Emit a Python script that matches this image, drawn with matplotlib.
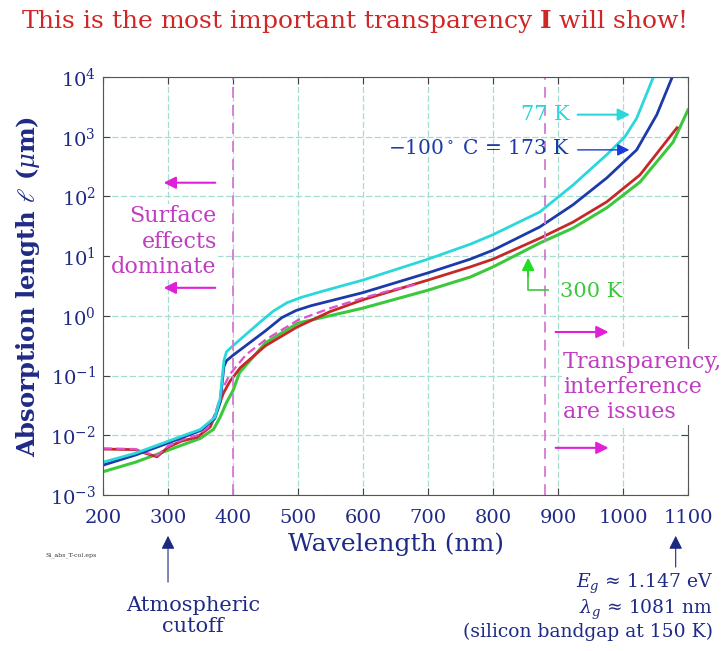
import numpy as np
import matplotlib
matplotlib.use('Agg')
import matplotlib.pyplot as plt

plt.rcParams['font.family'] = 'DejaVu Serif'
plt.rcParams['mathtext.fontset'] = 'dejavuserif'

# absorption length data, wavelength in nm and log10(length in um)
lam_77 = [200, 250, 300, 350, 372, 380, 386, 390, 400, 440, 462, 483, 505, 540, 600, 700,
          765, 800, 872, 923, 975, 1003, 1021, 1046]
log_77 = [-2.45, -2.30, -2.10, -1.90, -1.70, -1.40, -0.75, -0.60, -0.50, -0.12, 0.08, 0.22,
          0.31, 0.42, 0.60, 0.95, 1.20, 1.36, 1.74, 2.19, 2.70, 3.00, 3.31, 3.98]

lam_173 = [200, 250, 300, 350, 372, 380, 386, 390, 400, 450, 475, 497, 520, 600, 700, 765,
           800, 872, 923, 975, 1021, 1052, 1075]
log_173 = [-2.50, -2.33, -2.13, -1.92, -1.72, -1.45, -0.85, -0.75, -0.66, -0.25, -0.03, 0.09,
           0.17, 0.39, 0.72, 0.95, 1.10, 1.49, 1.86, 2.31, 2.78, 3.37, 3.98]

lam_red = [200, 250, 265, 283, 300, 320, 345, 365, 375, 385, 395, 411, 450, 498, 549, 600,
           700, 765, 800, 872, 923, 975, 1026, 1083]
log_red = [-2.23, -2.24, -2.30, -2.36, -2.20, -2.10, -2.03, -1.86, -1.60, -1.30, -1.10, -0.87,
           -0.50, -0.19, 0.07, 0.27, 0.60, 0.82, 0.95, 1.30, 1.57, 1.91, 2.36, 3.15]

lam_300 = [200, 250, 300, 350, 370, 380, 390, 400, 410, 450, 500, 600, 700, 765, 800, 872,
           923, 975, 1026, 1077, 1100]
log_300 = [-2.61, -2.45, -2.25, -2.05, -1.90, -1.70, -1.45, -1.25, -0.95, -0.45, -0.12, 0.13,
           0.43, 0.65, 0.82, 1.22, 1.47, 1.81, 2.24, 2.91, 3.45]

lam_mag = [200, 250, 265, 283, 300, 320, 345, 365, 375, 385, 395, 420, 450, 500, 550, 600,
           650, 680]
log_mag = [-2.22, -2.23, -2.29, -2.34, -2.18, -2.08, -2.00, -1.84, -1.55, -1.20, -0.98, -0.65,
           -0.40, -0.07, 0.13, 0.30, 0.45, 0.52]

xticks = [200, 300, 400, 500, 600, 700, 800, 900, 1000, 1100]
yticks = [1e-3, 1e-2, 1e-1, 1e0, 1e1, 1e2, 1e3, 1e4]
ytick_labels = ['$10^{%d}$' % k for k in range(-3, 5)]

navy = '#1f2a85'
cyan = '#2ad8dc'
blue = '#1c3aa8'
red = '#c62828'
green = '#3cc83c'
magenta = '#e020d8'
mag_text = '#c03cc0'

fig = plt.figure(figsize=(7.28, 6.51), dpi=100)
ax = fig.add_axes([0.1415, 0.2396, 0.8036, 0.6421])

ax.semilogy(lam_300, 10**np.array(log_300), color=green, lw=2.2)
ax.semilogy(lam_red, 10**np.array(log_red), color=red, lw=2.0)
ax.semilogy(lam_mag, 10**np.array(log_mag), color='#e050d0', lw=1.6, ls=(0, (4, 2)))
ax.semilogy(lam_173, 10**np.array(log_173), color=blue, lw=2.0)
ax.semilogy(lam_77, 10**np.array(log_77), color=cyan, lw=2.0)

ax.set_xlim(200, 1100)
ax.set_ylim(1e-3, 1e4)
ax.set_xticks(xticks)
ax.set_xticklabels([str(t) for t in xticks])
ax.set_yticks(yticks)
ax.set_yticklabels(ytick_labels)
ax.yaxis.set_minor_locator(matplotlib.ticker.NullLocator())
ax.tick_params(direction='in', top=True, right=True, length=5, width=0.8,
               labelsize=14, labelcolor=navy, color='#444444')
ax.tick_params(axis='x', pad=10)
ax.tick_params(axis='y', pad=5)
ax.grid(True, color='#a6ddd2', lw=0.9, ls=(0, (5, 2)))
for s in ax.spines.values():
    s.set_color('#555555')
    s.set_linewidth(0.8)

ax.axvline(400, color='#d47ad4', lw=1.3, ls=(0, (6, 4)))
ax.axvline(880, color='#d47ad4', lw=1.3, ls=(0, (6, 4)))

ax.set_xlabel('Wavelength (nm)', fontsize=18, color=navy, labelpad=4)
ax.set_ylabel(r'Absorption length $\ell$ ($\mu$m)', fontsize=17.5, color=navy,
              fontweight='bold', labelpad=6)

fig.text(0.486, 0.967, r'This is the most important transparency $\mathbf{I}$ will show!',
         ha='center', va='center', fontsize=18, color='#d02626')

# temperature labels
ax.text(918, 10**3.37, '77 K', ha='right', va='center', fontsize=15, color=cyan)
ax.annotate('', xy=(1015, 10**3.37), xytext=(926, 10**3.37),
            arrowprops=dict(arrowstyle='-|>', color=cyan, lw=1.5, mutation_scale=18))
ax.text(918, 10**2.80, r'$-$100$^\circ$ C = 173 K', ha='right', va='center',
        fontsize=14.5, color=blue)
ax.annotate('', xy=(1014, 10**2.78), xytext=(926, 10**2.78),
            arrowprops=dict(arrowstyle='-|>', color='#1a3ad8', lw=1.0, mutation_scale=18))
ax.plot([854, 854, 885], [10**0.90, 10**0.43, 10**0.43], color=green, lw=1.2)
ax.annotate('', xy=(854, 10**1.02), xytext=(854, 10**0.62),
            arrowprops=dict(arrowstyle='-|>', color='#22dd22', lw=1.5, mutation_scale=18))
ax.text(903, 10**0.40, '300 K', ha='left', va='center', fontsize=15, color=green)

# region notes
box = dict(facecolor='white', edgecolor='none', pad=1)
ax.text(375, 10**1.24, 'Surface\neffects\ndominate', ha='right', va='center',
        fontsize=16, color=mag_text, linespacing=1.2, bbox=box)
for ly in [2.23, 0.47]:
    ax.annotate('', xy=(289, 10**ly), xytext=(377, 10**ly),
                arrowprops=dict(arrowstyle='-|>', color=magenta, lw=1.5, mutation_scale=18))
ax.text(908, 10**-1.19, 'Transparency,\ninterference\nare issues', ha='left', va='center',
        fontsize=16, color=mag_text, linespacing=1.2, bbox=box)
for ly in [-0.27, -2.21]:
    ax.annotate('', xy=(982, 10**ly), xytext=(892, 10**ly),
                arrowprops=dict(arrowstyle='-|>', color=magenta, lw=1.5, mutation_scale=18))

# notes below the axis
bl = ax.get_xaxis_transform()
ax.annotate('', xy=(300, -0.091), xytext=(300, -0.215), xycoords=bl, textcoords=bl,
            arrowprops=dict(arrowstyle='-|>', color='#1a2a80', lw=0.8, mutation_scale=20))
ax.text(338, -0.29, 'Atmospheric\ncutoff', transform=bl, ha='center', va='center',
        fontsize=15, color=navy, linespacing=1.15)
ax.annotate('', xy=(1081, -0.091), xytext=(1081, -0.179), xycoords=bl, textcoords=bl,
            arrowprops=dict(arrowstyle='-|>', color='#1a2a80', lw=0.8, mutation_scale=20))
ax.text(1.043, -0.267, '$E_g$ ≈ 1.147 eV\n$\\lambda_g$ ≈ 1081 nm\n(silicon bandgap at 150 K)',
        transform=ax.transAxes, ha='right', va='center', fontsize=13.5, color=navy,
        linespacing=1.1)
ax.text(-0.099, -0.145, 'Si_abs_T-col.eps', transform=ax.transAxes, ha='left', va='center',
        fontsize=4.5, color='#333333')

fig.savefig('out.png', dpi=100)
